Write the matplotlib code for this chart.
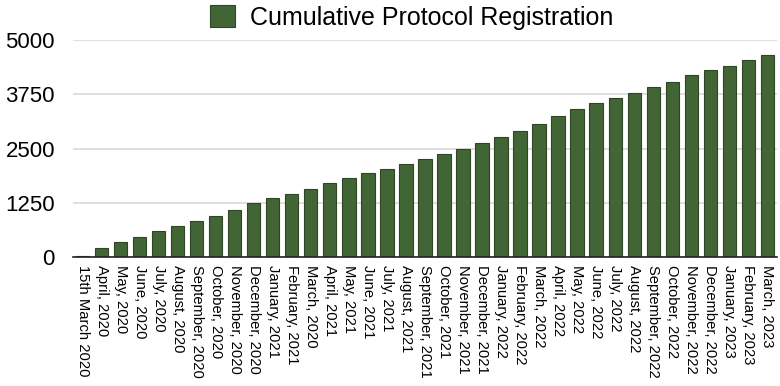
import matplotlib
matplotlib.use('Agg')
import matplotlib.pyplot as plt

plt.rcParams['font.family'] = ['Liberation Sans', 'DejaVu Sans']

months = ['15th March 2020',
          'April, 2020', 'May, 2020', 'June, 2020', 'July, 2020', 'August, 2020',
          'September, 2020', 'October, 2020', 'November, 2020', 'December, 2020',
          'January, 2021', 'February, 2021', 'March, 2020', 'April, 2021',
          'May, 2021', 'June, 2021', 'July, 2021', 'August, 2021',
          'September, 2021', 'October, 2021', 'November, 2021', 'December, 2021',
          'January, 2022', 'February, 2022', 'March, 2022', 'April, 2022',
          'May, 2022', 'June, 2022', 'July, 2022', 'August, 2022',
          'September, 2022', 'October, 2022', 'November, 2022', 'December, 2022',
          'January, 2023', 'February, 2023', 'March, 2023']

registrations = [20, 215, 345, 453, 591, 722, 822, 945, 1090, 1244,
                 1352, 1444, 1559, 1697, 1813, 1928, 2028, 2151,
                 2258, 2381, 2496, 2634, 2773, 2903, 3072, 3249,
                 3418, 3541, 3671, 3786, 3917, 4040, 4201, 4316,
                 4409, 4532, 4662]

yticks = [0, 1250, 2500, 3750, 5000]

fig = plt.figure(figsize=(7.8, 3.86), dpi=100)
ax = fig.add_axes([0.0936, 0.334, 0.9024, 0.562])

x = range(len(months))
ax.bar(x, registrations, width=0.7, color='#416535', edgecolor='#2c4722',
       linewidth=0.8, label='Cumulative Protocol Registration', zorder=3)

ax.set_xlim(-0.5, len(months) - 0.5)
ax.set_ylim(0, 5000)
ax.set_yticks(yticks)
ax.set_yticklabels([str(v) for v in yticks], fontsize=16)
ax.set_xticks(list(x))
ax.set_xticklabels(months, rotation=-90, fontsize=10.6, ha='center', va='top')

ax.grid(axis='y', color='#d9d9d9', linewidth=1.2, zorder=0)
for side in ['top', 'right', 'left']:
    ax.spines[side].set_visible(False)
ax.spines['bottom'].set_color('#222222')
ax.spines['bottom'].set_linewidth(1.2)
ax.spines['bottom'].set_zorder(4)
ax.tick_params(axis='both', length=0)
ax.tick_params(axis='y', pad=13)
ax.tick_params(axis='x', pad=6)

fig.legend(loc='center', bbox_to_anchor=(0.528, 0.955), frameon=False,
           fontsize=18, handlelength=1.0, handleheight=1.0, handletextpad=0.6)

fig.savefig('out.png', dpi=100)
